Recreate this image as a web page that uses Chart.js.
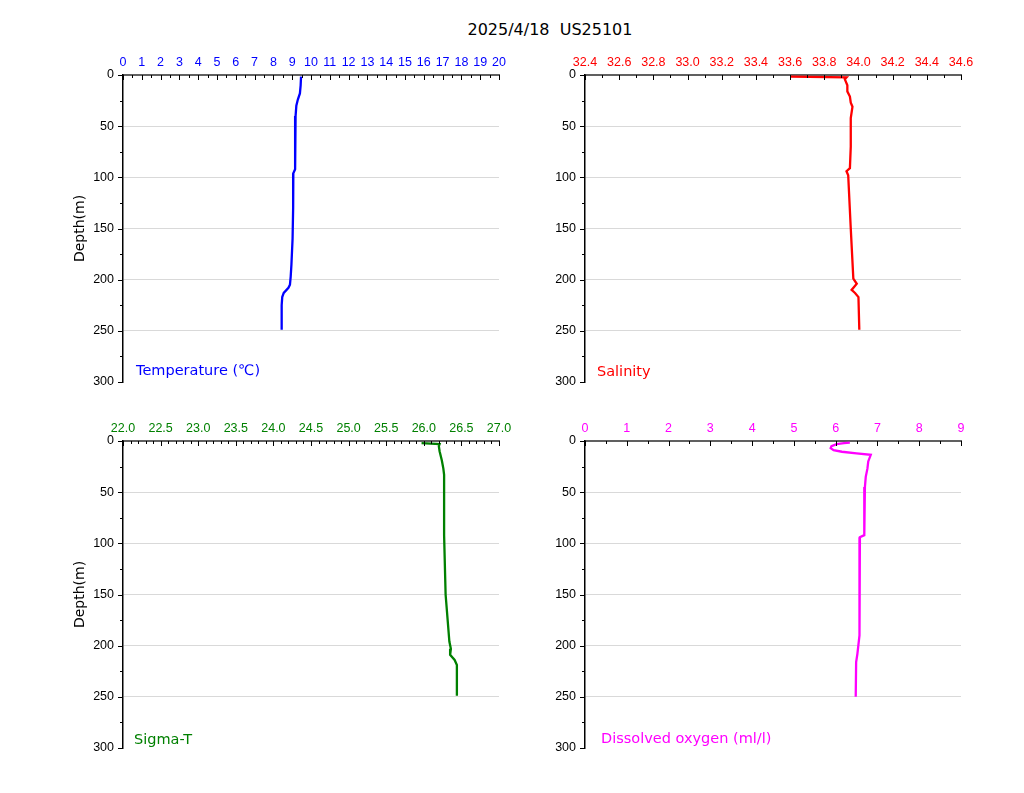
<!DOCTYPE html>
<html>
<head>
<meta charset="utf-8">
<script src="https://cdn.jsdelivr.net/npm/chart.js@4/dist/chart.umd.min.js"></script>
<style>
  body { margin: 0; background: #fff; width: 1024px; height: 793px; position: relative; overflow: hidden; font-family: "DejaVu Sans", sans-serif; }
  .box { position: absolute; width: 464px; height: 362px; }
  .lbl { position: absolute; font-size: 14.5px; white-space: nowrap; }
  #title { position: absolute; left: 0; width: 1100px; top: 20px; text-align: center; font-size: 16px; color: #000; }
</style>
</head>
<body>
<div id="title">2025/4/18&nbsp;&nbsp;US25101</div>

<div class="box" style="left:60px; top:40px;"><canvas id="tempChart"></canvas></div>
<div class="box" style="left:522px; top:40px;"><canvas id="salChart"></canvas></div>
<div class="box" style="left:60px; top:406px;"><canvas id="sigmaChart"></canvas></div>
<div class="box" style="left:522px; top:406px;"><canvas id="doChart"></canvas></div>

<div class="lbl" style="left:136px; top:362px; color:#0000ff;">Temperature (℃)</div>
<div class="lbl" style="left:597px; top:363px; color:#ff0000;">Salinity</div>
<div class="lbl" style="left:134px; top:731px; color:#008000;">Sigma-T</div>
<div class="lbl" style="left:601px; top:730px; color:#ff00ff;">Dissolved oxygen (ml/l)</div>

<script>
// depth (m) and values
var tempDepth = [1.6, 10, 18, 24, 30, 40, 70, 92, 96, 130, 160, 185, 197, 205, 208, 213, 217, 225, 249];
var tempValues = [9.47, 9.45, 9.41, 9.30, 9.22, 9.18, 9.16, 9.15, 9.06, 9.05, 9.02, 8.96, 8.92, 8.88, 8.80, 8.55, 8.47, 8.44, 8.44];

var salDepth = [1.5, 2.3, 4, 10, 16, 21, 27, 31, 42, 70, 91, 94, 98, 150, 199, 204, 210, 213, 217, 249];
var salValues = [33.60, 33.93, 33.92, 33.935, 33.935, 33.95, 33.955, 33.965, 33.955, 33.955, 33.95, 33.93, 33.94, 33.955, 33.97, 33.99, 33.96, 33.98, 34.00, 34.005];

var sigmaDepth = [2, 3, 5, 10, 19, 27, 33, 92, 150, 196, 203, 209, 214, 219, 249];
var sigmaValues = [25.97, 26.21, 26.20, 26.21, 26.24, 26.26, 26.27, 26.27, 26.29, 26.34, 26.36, 26.35, 26.41, 26.44, 26.44];

var doDepth = [1.5, 2, 3, 5, 7, 9, 10.5, 12, 13.5, 20, 27, 35, 45, 70, 92, 94, 150, 190, 208, 216, 250];
var doValues = [6.34, 6.2, 6.02, 5.9, 5.88, 5.95, 6.15, 6.5, 6.84, 6.78, 6.76, 6.72, 6.70, 6.69, 6.68, 6.58, 6.58, 6.56, 6.52, 6.49, 6.48];

var depthTicks = [0, 50, 100, 150, 200, 250, 300];

function isMajor(v, step) {
    var r = v / step;
    return Math.abs(r - Math.round(r)) < 1e-6;
}

// ticks drawn by hand: x ticks point down into the plot, y ticks point left
var tickMarks = {
    id: "tickMarks",
    afterDraw: function (chart) {
        var ctx = chart.ctx;
        var xs = chart.scales.x;
        var ys = chart.scales.y;
        var major = chart.options.plugins.tickMarks.major;
        var top = chart.chartArea.top;
        var left = chart.chartArea.left;
        ctx.save();
        ctx.lineWidth = 1;
        ctx.strokeStyle = "#000";
        ctx.beginPath();
        xs.ticks.forEach(function (t) {
            var px = Math.round(xs.getPixelForValue(t.value)) + 0.5;
            var len = isMajor(t.value - xs.min, major) ? 5 : 3;
            ctx.moveTo(px, top);
            ctx.lineTo(px, top + len);
        });
        ys.ticks.forEach(function (t) {
            var py = Math.round(ys.getPixelForValue(t.value)) + 0.5;
            var len = t.value % 50 === 0 ? 5 : 3;
            ctx.moveTo(left, py);
            ctx.lineTo(left - len, py);
        });
        ctx.stroke();
        ctx.restore();
    }
};

function makeChart(id, depth, values, color, min, max, step, major, digits, showTitle) {
    var points = depth.map(function (d, i) {
        return { x: values[i], y: d };
    });
    return new Chart(document.getElementById(id), {
        type: "scatter",
        data: {
            datasets: [{
                data: points,
                showLine: true,
                borderColor: color,
                borderWidth: 2.3,
                pointRadius: 0,
                tension: 0
            }]
        },
        options: {
            responsive: true,
            maintainAspectRatio: false,
            animation: false,
            layout: { padding: { left: 0, right: 25, top: 0, bottom: 20 } },
            plugins: {
                legend: { display: false },
                tooltip: { enabled: false },
                tickMarks: { major: major }
            },
            scales: {
                x: {
                    type: "linear",
                    position: "top",
                    min: min,
                    max: max,
                    afterFit: function (scale) { scale.height = 35; },
                    border: { color: "#606060", width: 2 },
                    grid: { drawOnChartArea: false, drawTicks: false },
                    ticks: {
                        stepSize: step,
                        autoSkip: false,
                        maxRotation: 0,
                        padding: 5,
                        color: color,
                        font: { family: "Liberation Sans", size: 12.5 },
                        callback: function (v) {
                            return isMajor(v - min, major) ? Number(v).toFixed(digits) : "";
                        }
                    }
                },
                y: {
                    type: "linear",
                    reverse: true,
                    min: 0,
                    max: 300,
                    afterFit: function (scale) { scale.width = 63; },
                    border: { color: "#000", width: 1.5 },
                    grid: {
                        drawTicks: false,
                        color: function (c) {
                            var v = c.tick.value;
                            return (v > 0 && v < 300 && depthTicks.indexOf(v) >= 0) ? "#d9d9d9" : "rgba(0,0,0,0)";
                        }
                    },
                    title: {
                        display: showTitle,
                        text: "Depth(m)",
                        color: "#000",
                        padding: { top: 12, bottom: 0 },
                        font: { family: "DejaVu Sans", size: 14 }
                    },
                    ticks: {
                        stepSize: 25,
                        autoSkip: false,
                        padding: 9,
                        color: "#000",
                        font: { family: "Liberation Sans", size: 12.5 },
                        callback: function (v) {
                            return depthTicks.indexOf(v) >= 0 ? v : "";
                        }
                    }
                }
            }
        },
        plugins: [tickMarks]
    });
}

makeChart("tempChart", tempDepth, tempValues, "#0000ff", 0, 20, 0.5, 1, 0, true);
makeChart("salChart", salDepth, salValues, "#ff0000", 32.4, 34.6, 0.1, 0.2, 1, false);
makeChart("sigmaChart", sigmaDepth, sigmaValues, "#008000", 22.0, 27.0, 0.1, 0.5, 1, true);
makeChart("doChart", doDepth, doValues, "#ff00ff", 0, 9, 0.5, 1, 0, false);
</script>
</body>
</html>
